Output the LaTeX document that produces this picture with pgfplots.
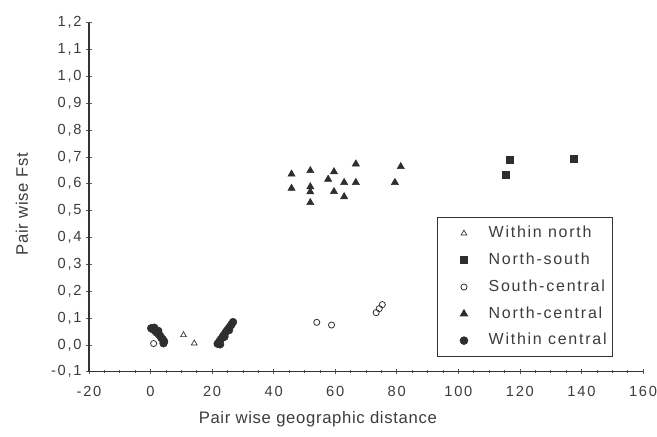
\documentclass[border=0pt]{standalone}
\usepackage{fontspec}
\setmainfont{Liberation Sans}
\usepackage{pgfplots}
\pgfplotsset{compat=1.18}
\definecolor{ink}{HTML}{2E2E2E}
\definecolor{txt}{HTML}{3C3C3C}
\begin{document}
\begin{tikzpicture}
\useasboundingbox (-66.75pt,-48.2pt) rectangle (426pt,278.8pt);
\begin{axis}[
  scale only axis, width=415.5pt, height=261.75pt,
  xmin=-20, xmax=160, ymin=-0.1, ymax=1.2,
  axis x line=bottom, axis y line=left,
  axis line style={-, draw=black!80, line width=0.8pt},
  xtick={-20,0,20,40,60,80,100,120,140,160},
  ytick={-0.1,0,0.1,0.2,0.3,0.4,0.5,0.6,0.7,0.8,0.9,1.0,1.1,1.2},
  minor x tick num=3, minor y tick num=4,
  tick align=center, major tick length=4pt, minor tick length=2pt,
  tick style={black!65, line width=0.5pt},
  /pgf/number format/assume math mode=true,
  every tick label/.append style={font=\fontsize{11}{13}\selectfont\addfontfeature{LetterSpace=12}, text=txt},
  y tick label style={/pgf/number format/.cd, fixed, fixed zerofill, precision=1, use comma, /tikz/.cd},
  x tick label style={yshift=-5pt, /pgf/number format/.cd, fixed, precision=0, /tikz/.cd},
  xlabel={Pair wise geographic distance},
  xlabel style={at={(axis description cs:0.413,-0.135)}, anchor=center,
    font=\fontsize{12.5}{15}\selectfont\addfontfeature{LetterSpace=4}, text=txt},
  ylabel={Pair wise Fst},
  ylabel style={at={(axis description cs:-0.121,0.48)}, anchor=center,
    font=\fontsize{12.5}{15}\selectfont\addfontfeature{LetterSpace=4}, text=txt},
  legend style={at={(0.946,0.042)}, anchor=south east, draw=black!80,
    line width=0.6pt, fill=white, inner xsep=0pt, inner ysep=2pt,
    font=\fontsize{12}{14}\selectfont\addfontfeature{LetterSpace=11}, text=txt,
    nodes={text height=9pt, text depth=2.7pt, inner ysep=4.2pt, inner xsep=4.5pt},
    row sep=0pt},
  legend cell align=left,
  legend image code/.code={\path[draw=none, fill=none] (0pt,0pt) rectangle (34pt,0pt);
    \draw[#1, only marks] plot coordinates {(20pt,0pt)};},
]
% within north
\addplot[only marks, mark=triangle, mark size=2.5pt, draw=ink, line width=0.5pt,
  mark options={fill=white}]
  coordinates {(10.7,0.037) (14.2,0.006)};
\addlegendentry{Within north}
% north-south
\addplot[only marks, mark=square*, mark size=2.6pt, draw=ink, fill=ink]
  coordinates {(116.8,0.689) (115.4,0.635) (137.4,0.695)};
\addlegendentry{North-south}
% south-central
\addplot[only marks, mark=o, mark size=2.3pt, draw=ink, line width=0.6pt]
  coordinates {(54.0,0.084) (58.8,0.074) (73.3,0.120) (74.3,0.135) (75.3,0.150) (1.0,0.005)};
\addlegendentry{South-central}
% north-central
\addplot[only marks, mark=triangle*, mark size=3.1pt, draw=ink, fill=ink]
  coordinates {
    (45.8,0.636) (51.9,0.649) (45.8,0.583) (51.9,0.589) (51.9,0.570)
    (51.9,0.530) (57.7,0.617) (59.6,0.645) (66.7,0.674) (62.9,0.605)
    (66.7,0.605) (59.6,0.571) (62.9,0.552) (81.3,0.664) (79.4,0.605)};
\addlegendentry{North-central}
% within central
\addplot[only marks, mark=*, mark size=2.9pt, draw=ink, fill=ink]
  coordinates {
    (0.2,0.062) (0.8,0.058) (1.5,0.052) (2.0,0.046) (2.6,0.040) (3.1,0.034)
    (3.5,0.026) (4.0,0.020) (4.4,0.013) (4.2,0.006) (1.2,0.064) (2.5,0.052)
    (21.8,0.004) (22.3,0.012) (22.8,0.020) (23.3,0.028) (23.8,0.037)
    (24.3,0.045) (24.8,0.053) (25.3,0.060) (25.8,0.068) (26.3,0.076)
    (26.8,0.085) (22.6,0.002) (24.0,0.030) (25.5,0.055)};
\addlegendentry{Within central}
\end{axis}
\end{tikzpicture}
\end{document}
